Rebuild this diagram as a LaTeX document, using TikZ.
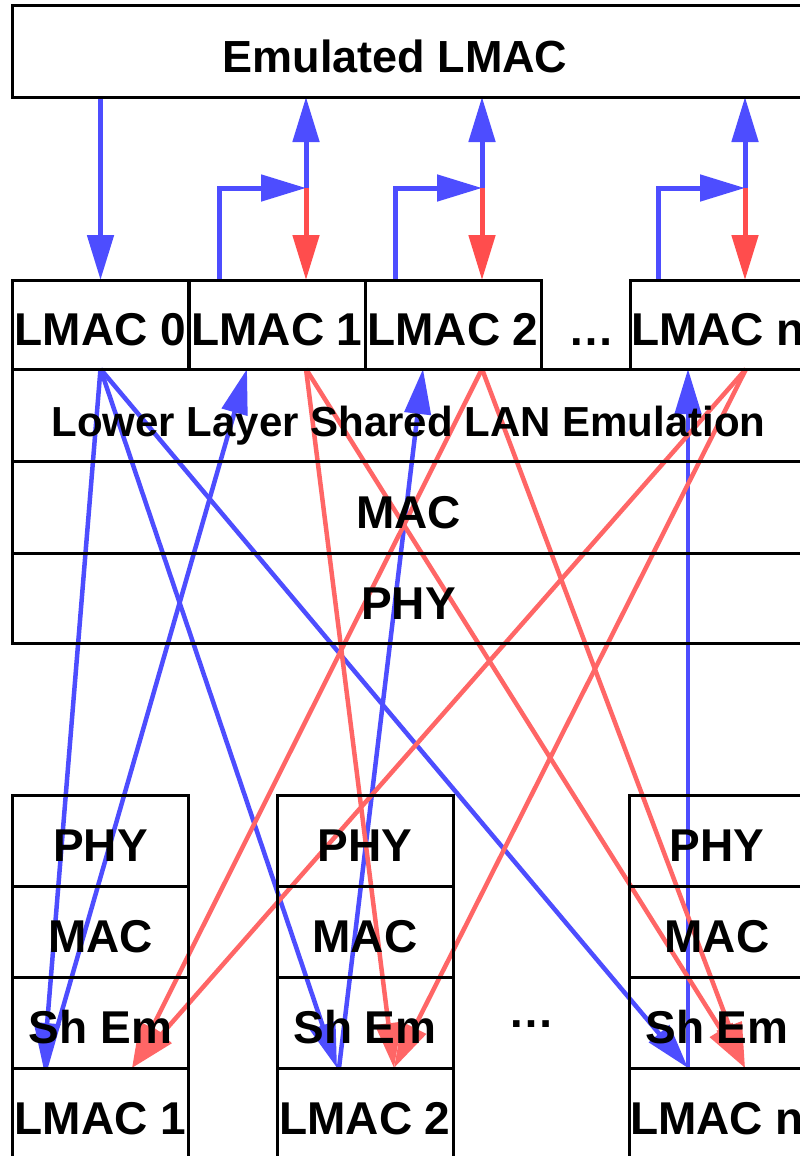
\documentclass[tikz,border=0pt]{standalone}
\usepackage{fontspec}
\setmainfont{Liberation Sans}
\usepackage{tikz}
\usetikzlibrary{arrows.meta,positioning,calc,backgrounds}
\definecolor{bl}{RGB}{77,77,255}
\definecolor{rd}{RGB}{255,77,77}
\definecolor{rdl}{RGB}{255,102,102}

\begin{document}
\begin{tikzpicture}[
  x=1pt, y=-1pt,
  >={Triangle[length=45pt,width=26pt]},
  box/.style={draw, line width=3pt, rectangle, inner sep=0pt, outer sep=0pt, minimum width=176pt, minimum height=91pt, text height=44pt, text depth=2pt, font=\bfseries\fontsize{46pt}{50pt}\selectfont},
  wide/.style={box, minimum width=793pt, minimum height=92pt},
  txt/.style={box, draw=none, minimum width=0pt, minimum height=0pt},
  barr/.style={->, line width=5pt, bl},
  rarr/.style={->, line width=5pt, rd},
  bx/.style={->, line width=4.5pt, bl},
  rx/.style={->, line width=4.5pt, rdl}
]
\clip (0,0) rectangle (800,1156);
% upper side
\node[box, minimum width=800pt] (emu) at (412,51.5) {};
\node[txt, font=\bfseries\fontsize{45pt}{50pt}\selectfont] (emutxt) at (395,51.5) {Emulated LMAC};
\node[box, minimum height=89pt] (l0) at (100.5,324.5) {LMAC 0};
\node[box, minimum height=89pt] (l1) at (277,324.5) {LMAC 1};
\node[box, minimum height=89pt] (l2) at (453,324.5) {LMAC 2};
\node[txt] (ldots) at (591.5,324.5) {\dots};
\node[box, minimum height=89pt] (ln) at (718,324.5) {LMAC n};
\node[wide, font=\bfseries\fontsize{42pt}{46pt}\selectfont] (shlan) at (408.5,415) {Lower Layer Shared LAN Emulation};
\node[wide] (mac) at (408.5,507) {MAC};
\node[wide, minimum height=90pt] (phy) at (408.5,598) {PHY};
% lower side
\node[box] (p1) at (100.5,840.5) {PHY};
\node[box] (m1) at (100.5,931.5) {MAC};
\node[box] (s1) at (100.5,1022.5) {Sh Em};
\node[box] (lm1) at (100.5,1113.5) {LMAC 1};
\node[box] (p2) at (365,840.5) {PHY};
\node[box] (m2) at (365,931.5) {MAC};
\node[box] (s2) at (365,1022.5) {Sh Em};
\node[box] (lm2) at (365,1113.5) {LMAC 2};
\node[txt] (bdots) at (531,1006.5) {\dots};
\node[box] (pn) at (717,840.5) {PHY};
\node[box] (mn) at (717,931.5) {MAC};
\node[box] (sn) at (717,1022.5) {Sh Em};
\node[box] (lmn) at (717,1113.5) {LMAC n};

\coordinate (j1) at ($(l1.north)+(29,-92)$);
\coordinate (j2) at ($(l2.north)+(29,-92)$);
\coordinate (jn) at ($(ln.north)+(27,-92)$);

\begin{scope}[on background layer]
\fill[white] (0,0) rectangle (800,1156);
% emulated LMAC <-> LMACs
\draw[barr] (l0.north |- emu.south) -- (l0.north);
\draw[barr] ($(l1.north)+(-58,0)$) |- (j1);
\draw[barr] (j1) -- (j1 |- emu.south);
\draw[rarr] (j1) -- (j1 |- l1.north);
\draw[barr] ($(l2.north)+(-58,0)$) |- (j2);
\draw[barr] (j2) -- (j2 |- emu.south);
\draw[rarr] (j2) -- (j2 |- l2.north);
\draw[barr] ($(ln.north)+(-60,0)$) |- (jn);
\draw[barr] (jn) -- (jn |- emu.south);
\draw[rarr] (jn) -- (jn |- ln.north);
% shared LAN paths
\draw[bx] (l0.south) -- ($(s1.south)+(-57,0)$);
\draw[bx] (l0.south) -- ($(s2.south)+(-28,0)$);
\draw[bx] (l0.south) -- ($(sn.south)+(-29,0)$);
\draw[bx] ($(s1.south)+(-55,0)$) -- ($(l1.south)+(-30,0)$);
\draw[bx] ($(s2.south)+(-26,0)$) -- ($(l2.south)+(-30,0)$);
\draw[bx] ($(sn.south)+(-29,0)$) -- ($(ln.south)+(-30,0)$);
\draw[rx] ($(l1.south)+(29,0)$) -- ($(s2.south)+(29,0)$);
\draw[rx] ($(l1.south)+(29,0)$) -- ($(sn.south)+(28,0)$);
\draw[rx] ($(l2.south)+(29,0)$) -- ($(s1.south)+(31.5,0)$);
\draw[rx] ($(l2.south)+(29,0)$) -- ($(sn.south)+(28,0)$);
\draw[rx] ($(ln.south)+(28,0)$) -- ($(s1.south)+(31.5,0)$);
\draw[rx] ($(ln.south)+(28,0)$) -- ($(s2.south)+(29,0)$);
\end{scope}
\end{tikzpicture}
\end{document}
